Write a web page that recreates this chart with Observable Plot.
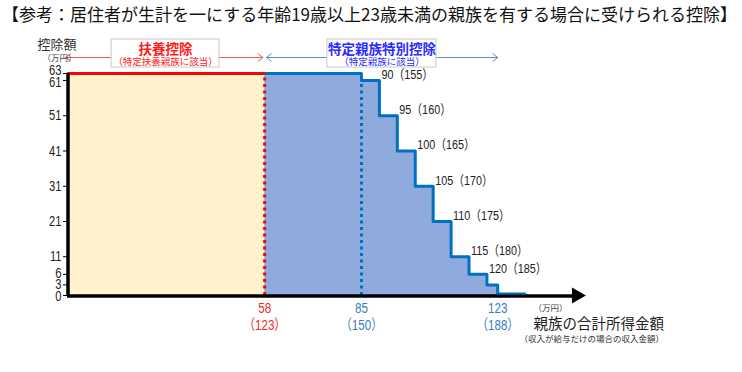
<!DOCTYPE html>
<html>
<head>
<meta charset="utf-8">
<script src="https://cdn.jsdelivr.net/npm/d3@7"></script>
<script src="https://cdn.jsdelivr.net/npm/@observablehq/plot@0.6"></script>
<style>
  body { margin: 0; background: #fff; }
  #title { height: 27px; line-height: 27px; font-size: 17px; font-family: "Noto Sans CJK JP", sans-serif; color: #111; padding-left: 2px; white-space: nowrap; }
  svg { display: block; }
</style>
</head>
<body>
<div id="title">【参考：居住者が生計を一にする年齢19歳以上23歳未満の親族を有する場合に受けられる控除】</div>
<div id="chart"></div>
<script>
// ---- data ----
const xOrigin = 3;                       // where the axes cross (万円)
const dependentLimit = 58;               // 扶養控除 upper limit (所得)
const specialStart = 85;                 // full deduction limit for 特定親族特別控除
const maxDeduction = 63;
const stepIncome = [58, 85, 90, 95, 100, 105, 110, 115, 120, 123, 131];
const stepDeduction = [63, 61, 51, 41, 31, 21, 11, 6, 3, 0, 0];
const labelIncome = [90, 95, 100, 105, 110, 115, 120];
const labelGross = [155, 160, 165, 170, 175, 180, 185];
const labelLevel = [61, 51, 41, 31, 21, 11, 6];
const yTicks = [0, 3, 6, 11, 21, 31, 41, 51, 61, 63];
const xTickIncome = [58, 85, 123];
const xTickGross = [123, 150, 188];
const xTickColor = ["#ee2a2a", "#3a7cc0", "#3a7cc0"];
const annTitle = ["扶養控除", "特定親族特別控除"];
const annSub = ["（特定扶養親族に該当）", "（特定親族に該当）"];
const annStart = [2.5, 58.5];
const annEnd = [57.5, 123];
const annBoxX1 = [15.3, 75.5];
const annBoxX2 = [45.4, 105.9];
const annColor = ["#ff1a1a", "#2b2bff"];
const annArrowColor = ["#e06060", "#5b8fc8"];
const axisEnd = 145;

const font = '"Liberation Sans", "Noto Sans CJK JP", sans-serif';

const steps = stepIncome.map((x, i) => ({x, y: stepDeduction[i]}));
const labels = labelIncome.map((x, i) => ({x, y: labelLevel[i], t: `${x}（${labelGross[i]}）`}));
const xt = xTickIncome.map((x, i) => ({x, t: `${x}\n（${xTickGross[i]}）`, c: xTickColor[i]}));
const anns = annTitle.map((t, i) => ({
  t, s: annSub[i], a: annStart[i], b: annEnd[i],
  m: (annBoxX1[i] + annBoxX2[i]) / 2, bx1: annBoxX1[i], bx2: annBoxX2[i],
  c: annColor[i], ac: annArrowColor[i]
}));
const arrows = anns.flatMap(d => [{x1: d.m, x2: d.a, c: d.ac}, {x1: d.m, x2: d.b, c: d.ac}]);
const yMain = yTicks.filter(v => ![0, 6, 61, 63].includes(v));
const yLabel = (vals, dy) => Plot.text(vals, {x: xOrigin, y: d => d, text: d => String(d), textAnchor: "end", dx: -6, dy, fontSize: 14, fill: "#222"});

const plot = Plot.plot({
  width: 742, height: 345,
  marginLeft: 67, marginRight: 148, marginTop: 46, marginBottom: 77,
  style: {fontFamily: font, background: "#fff", color: "#222"},
  x: {domain: [xOrigin, 150], axis: null},
  y: {domain: [0, maxDeduction], axis: null},
  marks: [
    Plot.rectY([0], {x1: xOrigin, x2: dependentLimit, y1: 0, y2: maxDeduction, fill: "#fff2cc"}),
    Plot.areaY(steps, {x: "x", y: "y", curve: "step-after", fill: "#8faadc"}),
    Plot.line(steps, {x: "x", y: "y", curve: "step-after", stroke: "#0070c0", strokeWidth: 3}),
    Plot.ruleX([specialStart], {y1: 0, y2: 61, stroke: "#0070c0", strokeWidth: 3, strokeDasharray: "3,3.5"}),
    Plot.ruleY([maxDeduction], {x1: xOrigin, x2: dependentLimit, stroke: "#ff0000", strokeWidth: 3}),
    Plot.ruleX([dependentLimit], {y1: 0, y2: maxDeduction, stroke: "#ff0000", strokeWidth: 3, strokeDasharray: "3,3.5"}),
    // axes lines
    Plot.ruleX([xOrigin], {y1: 0, y2: maxDeduction, stroke: "#000", strokeWidth: 3.5, dx: 0.5}),
    Plot.ruleY([0], {x1: xOrigin, x2: axisEnd, stroke: "#000", strokeWidth: 3.5, dy: 0.5}),
    Plot.ruleY([0], {x1: 123, x2: 131, stroke: "#0070c0", strokeWidth: 2, dy: -2}),
    Plot.dot([axisEnd], {x: d => d, y: 0, symbol: "triangle", rotate: 90, r: 6, fill: "#000", stroke: null}),
    Plot.axisY({ticks: yTicks, tickSize: 4, tickFormat: () => "", label: null, stroke: "#000"}),
    // y tick labels
    yLabel(yMain, 0),
    yLabel([0], 1),
    yLabel([6], -1),
    yLabel([61], 1.5),
    yLabel([63], -3),
    // step labels
    Plot.text(labels, {x: "x", y: "y", text: "t", textAnchor: "start", dx: 2, dy: -6, fontSize: 13.5, fill: "#222"}),
    // x tick labels
    Plot.text(xt, {x: "x", y: 0, text: "t", fill: "c", dy: 5, fontSize: 14.5, lineHeight: 1.18, lineAnchor: "top"}),
    // annotations
    Plot.arrow(arrows, {x1: "x1", x2: "x2", y1: maxDeduction, y2: maxDeduction, dy: -16, stroke: "c", strokeWidth: 1, headLength: 9, headAngle: 75}),
    Plot.rect(anns, {x1: "bx1", x2: "bx2", y1: maxDeduction, y2: maxDeduction, insetTop: -34, insetBottom: 6, fill: "#fff", stroke: "#c8c8c8", strokeWidth: 1}),
    Plot.text(anns, {x: "m", y: maxDeduction, text: "t", fill: "c", dy: -24, fontSize: 13.5, fontWeight: "bold"}),
    Plot.text(anns, {x: "m", y: maxDeduction, text: "s", fill: "c", dy: -12, fontSize: 9.5}),
    // titles
    Plot.text(["控除額"], {frameAnchor: "top-left", dx: -30, dy: -34, fontSize: 13, fill: "#333"}),
    Plot.text(["（万円）"], {frameAnchor: "top-left", dx: -25, dy: -19, fontSize: 8.5, fill: "#444"}),
    Plot.text(["（万円）"], {frameAnchor: "bottom-right", dx: -27, dy: 15, fontSize: 8.5, fill: "#444"}),
    Plot.text(["親族の合計所得金額"], {frameAnchor: "bottom-right", textAnchor: "start", dx: -61, dy: 33, fontSize: 14.5, fill: "#222"}),
    Plot.text(["（収入が給与だけの場合の収入金額）"], {frameAnchor: "bottom-right", textAnchor: "start", dx: -75, dy: 46, fontSize: 8.5, fill: "#333"})
  ]
});

// horizontally condense numeric labels to mimic the narrow typeface of the original
function condense(el, f) {
  const t = el.getAttribute("transform");
  if (t && /translate\(/.test(t)) {
    el.setAttribute("transform", t + ` scale(${f},1)`);
  } else {
    const x = +el.getAttribute("x") || 0, y = +el.getAttribute("y") || 0;
    el.setAttribute("transform", `translate(${x},${y}) scale(${f},1) translate(${-x},${-y})`);
  }
}
d3.select(plot).selectAll("text").each(function() {
  const s = this.textContent;
  if (/^[\d（）\n]+$/.test(s)) condense(this, 0.8);
});
document.getElementById("chart").appendChild(plot);
</script>
</body>
</html>
